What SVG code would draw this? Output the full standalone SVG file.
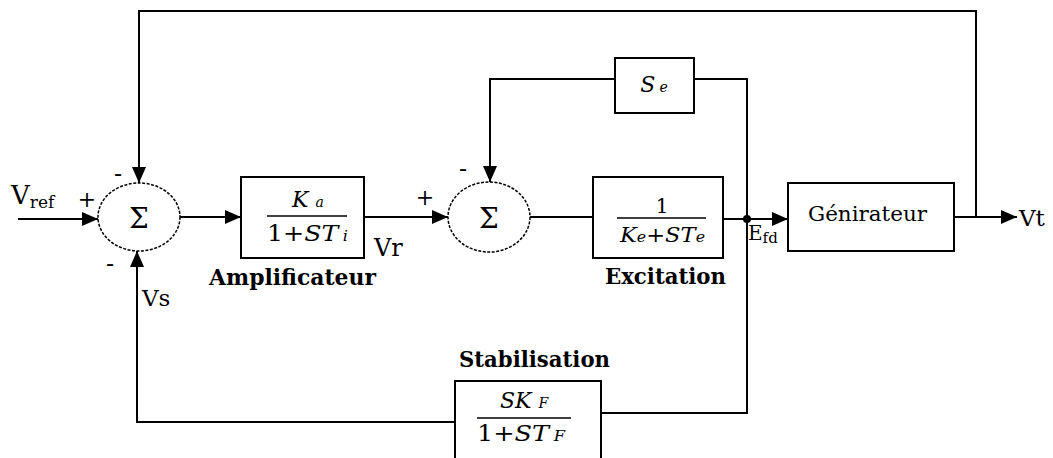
<svg xmlns="http://www.w3.org/2000/svg" width="1053" height="458" viewBox="0 0 1053 458">
<style>
.ln{fill:none;stroke:#000;stroke-width:2}
.bx{fill:#fff;stroke:#000;stroke-width:2}
.sum{fill:#fff;stroke:#000;stroke-width:1.5;stroke-dasharray:3 1.5}
text{font-family:'DejaVu Serif', 'Liberation Serif', serif;fill:#000}
.it{font-style:italic}
.b{font-weight:bold}
</style>
<defs>
<marker id="ar" markerUnits="userSpaceOnUse" markerWidth="16" markerHeight="14" refX="16" refY="7" orient="auto">
<path d="M0,0 L16,7 L0,14 Z" fill="#000"/>
</marker>
</defs>
<rect width="1053" height="458" fill="#fff"/>
<g id="connectors">
<path class="ln" d="M18,219 H98" marker-end="url(#ar)"/>
<path class="ln" d="M976,217 V11 H139 V183" marker-end="url(#ar)"/>
<path class="ln" d="M455,422 H137 V251" marker-end="url(#ar)"/>
<path class="ln" d="M180,217 H241" marker-end="url(#ar)"/>
<path class="ln" d="M364,217 H448" marker-end="url(#ar)"/>
<path class="ln" d="M615,79 H490 V182" marker-end="url(#ar)"/>
<path class="ln" d="M530,217 H593"/>
<path class="ln" d="M723,219 H788" marker-end="url(#ar)"/>
<path class="ln" d="M694,79 H747 V413 H601"/>
<path class="ln" d="M954,217 H1017" marker-end="url(#ar)"/>
<circle cx="747" cy="219" r="4" fill="#000"/>
</g>
<g id="sum1">
<ellipse class="sum" cx="139" cy="217" rx="41" ry="34"/>
<text x="139" y="228" font-size="28" text-anchor="middle">Σ</text>
<text x="87" y="207" font-size="22" text-anchor="middle">+</text>
<text x="118" y="182" font-size="24" text-anchor="middle">-</text>
<text x="110" y="272" font-size="24" text-anchor="middle">-</text>
</g>
<g id="sum2">
<ellipse class="sum" cx="489" cy="217" rx="41" ry="35"/>
<text x="489" y="228" font-size="28" text-anchor="middle">Σ</text>
<text x="425" y="205" font-size="22" text-anchor="middle">+</text>
<text x="463" y="177" font-size="24" text-anchor="middle">-</text>
</g>
<g id="labels">
<text x="11" y="204" font-size="26">V<tspan font-size="17" dy="4">ref</tspan></text>
<text x="142" y="306" font-size="23">Vs</text>
<text x="374" y="256" font-size="24">Vr</text>
<text x="1019" y="226" font-size="23">Vt</text>
<text x="748" y="240" font-size="20">E<tspan font-size="15" dy="3">fd</tspan></text>
</g>
<g id="amplificateur">
<rect class="bx" x="241" y="177" width="123" height="81"/>
<text class="it" x="308" y="207" font-size="22" text-anchor="middle">K<tspan font-size="14" dx="7">a</tspan></text>
<line x1="267" y1="216" x2="347" y2="216" stroke="#000" stroke-width="1.5"/>
<text x="267" y="241" font-size="22" textLength="81" lengthAdjust="spacingAndGlyphs">1+<tspan class="it">ST</tspan><tspan class="it" font-size="14" dx="4">i</tspan></text>
<text class="b" x="209" y="285" font-size="22" textLength="167" lengthAdjust="spacingAndGlyphs">Amplificateur</text>
</g>
<g id="se">
<rect class="bx" x="615" y="58" width="79" height="55"/>
<text class="it" x="654" y="92" font-size="22" text-anchor="middle">S<tspan font-size="14" dx="4">e</tspan></text>
</g>
<g id="excitation">
<rect class="bx" x="593" y="177" width="130" height="81"/>
<text x="662" y="213" font-size="20" text-anchor="middle">1</text>
<line x1="617" y1="218" x2="706" y2="218" stroke="#000" stroke-width="1.5"/>
<text class="it" x="620" y="242" font-size="20" textLength="85" lengthAdjust="spacingAndGlyphs">K<tspan font-size="14">e</tspan>+ST<tspan font-size="14">e</tspan></text>
<text class="b" x="605" y="284" font-size="22" textLength="121" lengthAdjust="spacingAndGlyphs">Excitation</text>
</g>
<g id="generateur">
<rect class="bx" x="788" y="183" width="166" height="68"/>
<text x="808" y="221" font-size="21" textLength="119" lengthAdjust="spacingAndGlyphs">Génirateur</text>
</g>
<g id="stabilisation">
<rect class="bx" x="455" y="381" width="146" height="90"/>
<text class="it" x="524" y="408" font-size="22" text-anchor="middle">SK<tspan font-size="14" dx="7">F</tspan></text>
<line x1="477" y1="418" x2="571" y2="418" stroke="#000" stroke-width="1.5"/>
<text x="477" y="441" font-size="22" textLength="88" lengthAdjust="spacingAndGlyphs">1+<tspan class="it">ST</tspan><tspan class="it" font-size="14" dx="4">F</tspan></text>
<text class="b" x="459" y="367" font-size="22" textLength="151" lengthAdjust="spacingAndGlyphs">Stabilisation</text>
</g>
</svg>
